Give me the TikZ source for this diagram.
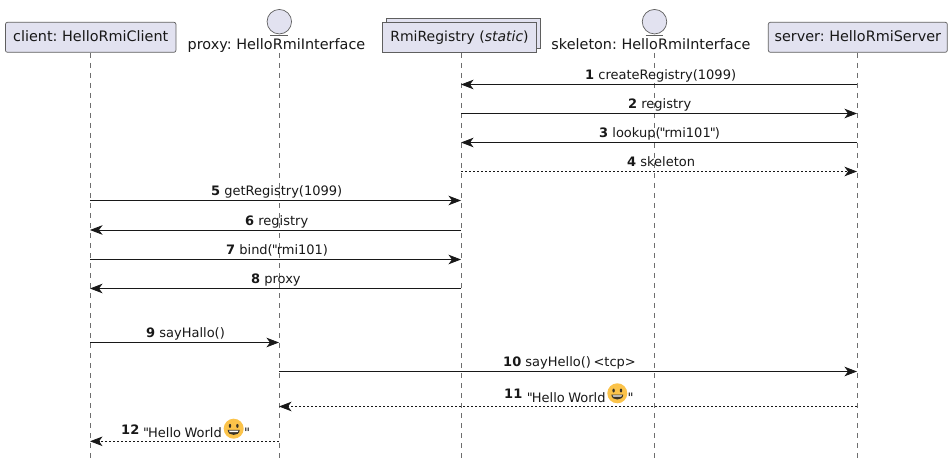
\documentclass[tikz,border=0pt]{standalone}
\usepackage{fontspec}
\newfontfamily\djv{DejaVu Sans}
\usetikzlibrary{arrows.meta}
\definecolor{partfill}{HTML}{E2E2F0}
\definecolor{partline}{HTML}{5F5F5F}
\definecolor{lifeline}{HTML}{6E6E6E}
\definecolor{inkc}{HTML}{181818}
\definecolor{smileyc}{HTML}{FBC34A}
\definecolor{smileyd}{HTML}{3A3326}
\tikzset{
  x=1pt,y=-1pt,
  part/.style={draw=partline,fill=partfill,line width=.7pt,rounded corners=2pt,inner sep=0pt,font=\djv\frenchspacing\fontsize{14.4}{14}\selectfont,text=inkc,text height=10.5pt,text depth=3pt},
  regbox/.style={draw=partline,fill=partfill,line width=.7pt,inner sep=0pt},
  ent/.style={circle,draw=partline,fill=partfill,line width=.7pt,minimum size=24.5pt,inner sep=0pt},
  enttext/.style={anchor=base,inner sep=0pt,font=\djv\frenchspacing\fontsize{14.4}{14}\selectfont,text=inkc},
  life/.style={draw=lifeline,line width=.7pt,dash pattern=on 5pt off 5pt},
  msg/.style={draw=inkc,line width=.8pt,-{Stealth[length=12.5pt,width=9.5pt,inset=3.5pt]}},
  reply/.style={msg,dash pattern=on 2pt off 2pt},
  lab/.style={anchor=base west,inner sep=0pt,font=\djv\fontsize{13}{13}\selectfont,text=inkc},
  smiley/.pic={
    \fill[smileyc] (0,0) circle[radius=10];
    \fill[smileyd] (-3.7,-2.8) ellipse[x radius=1.2,y radius=2];
    \fill[smileyd] (3.7,-2.8) ellipse[x radius=1.2,y radius=2];
    \fill[smileyd] (-6,1.2) -- (6,1.2) .. controls (5.8,4.8) and (3,6.2) .. (0,6.2) .. controls (-3,6.2) and (-5.8,4.8) .. (-6,1.2) -- cycle;
    \fill[white] (-4.8,2) -- (4.8,2) .. controls (4.6,2.8) and (4.2,3.2) .. (3.8,3.4) -- (-3.8,3.4) .. controls (-4.2,3.2) and (-4.6,2.8) .. (-4.8,2) -- cycle;
  }
}
\newcommand{\num}[1]{\textbf{#1}}
\newcommand{\qt}{\kern-1pt"\kern-1pt}
\begin{document}
\begin{tikzpicture}
\useasboundingbox (0,0) rectangle (952,465);
\fill[white] (0,0) rectangle (952,465);
% lifeline ends
\coordinate (cA) at (90,53);   \coordinate (cZ) at (90,459);
\coordinate (pA) at (279,53);  \coordinate (pZ) at (279,459);
\coordinate (rA) at (461,53);  \coordinate (rZ) at (461,459);
\coordinate (kA) at (654,53);  \coordinate (kZ) at (654,459);
\coordinate (sA) at (857,53);  \coordinate (sZ) at (857,459);
\draw[life] (cA) -- (cZ);
\draw[life] (pA) -- (pZ);
\draw[life] (rA) -- (rZ);
\draw[life] (kA) -- (kZ);
\draw[life] (sA) -- (sZ);
% participants
\node[part,minimum width=170.5pt,minimum height=30pt] (client) at (90.7,37.3) {client: HelloRmiClient};
\node[ent] (proxy) at (279.3,21.7) {};
\draw[draw=partline,line width=.7pt] (proxy.south west |- 0,35) -- (proxy.south east |- 0,35);
\node[enttext] (proxyt) at (276.5,50) {proxy: HelloRmiInterface};
\node[regbox,minimum width=154.3pt,minimum height=30pt] (regback) at (463.6,33.3) {};
\node[regbox,minimum width=154.3pt,minimum height=30pt,font=\djv\frenchspacing\fontsize{14}{14}\selectfont,text=inkc] (registry) at (459.5,37.3) {RmiRegistry (\textit{static})};
\node[ent] (skeleton) at (654.5,21.7) {};
\draw[draw=partline,line width=.7pt] (skeleton.south west |- 0,35) -- (skeleton.south east |- 0,35);
\node[enttext] (skeletont) at (651,50) {skeleton: HelloRmiInterface};
\node[part,minimum width=179pt,minimum height=30pt] (server) at (857.8,37.3) {server: HelloRmiServer};
% messages
\draw[msg] (sA |- 0,84.5) -- (rA |- 0,84.5);
\node[lab] (m1) at (585,79.5) {\num{1} createRegistry(1099)};
\draw[msg] (rA |- 0,113.5) -- (sA |- 0,113.5);
\node[lab] (m2) at (628,108.5) {\num{2} registry};
\draw[msg] (sA |- 0,142.5) -- (rA |- 0,142.5);
\node[lab] (m3) at (599,137.5) {\num{3} lookup(\qt rmi101\qt)};
\draw[reply] (rA |- 0,171.5) -- (sA |- 0,171.5);
\node[lab] (m4) at (627,167) {\num{4} skeleton};
\draw[msg] (cA |- 0,200.5) -- (rA |- 0,200.5);
\node[lab] (m5) at (211,196) {\num{5} getRegistry(1099)};
\draw[msg] (rA |- 0,230) -- (cA |- 0,230);
\node[lab] (m6) at (245,225) {\num{6} registry};
\draw[msg] (cA |- 0,259.5) -- (rA |- 0,259.5);
\node[lab] (m7) at (226,254) {\num{7} bind(\qt rmi101)};
\draw[msg] (rA |- 0,288.5) -- (cA |- 0,288.5);
\node[lab] (m8) at (251,283.5) {\num{8} proxy};
\draw[msg] (cA |- 0,342.5) -- (pA |- 0,342.5);
\node[lab] (m9) at (146,337) {\num{9} sayHallo()};
\draw[msg] (pA |- 0,371.5) -- (sA |- 0,371.5);
\node[lab] (m10) at (503,366.5) {\num{10} sayHello()\kern-1.5pt\ <tcp>};
\draw[reply] (sA |- 0,406.5) -- (pA |- 0,406.5);
\node[lab] (m11) at (504,398.5) {\num{11}};
\node[lab] (m11t) at (526.7,402) {"\kern-1pt Hello\kern-.7pt\ World};
\pic at (617.3,393.3) {smiley};
\node[lab] (m11q) at (627.3,402) {"};
\draw[reply] (pA |- 0,441.3) -- (cA |- 0,441.3);
\node[lab] (m12) at (121,434) {\num{12}};
\node[lab] (m12t) at (143,437.2) {"\kern-1pt Hello\kern-.7pt\ World};
\pic at (233.7,428.7) {smiley};
\node[lab] (m12q) at (244,437.2) {"};
\end{tikzpicture}
\end{document}
